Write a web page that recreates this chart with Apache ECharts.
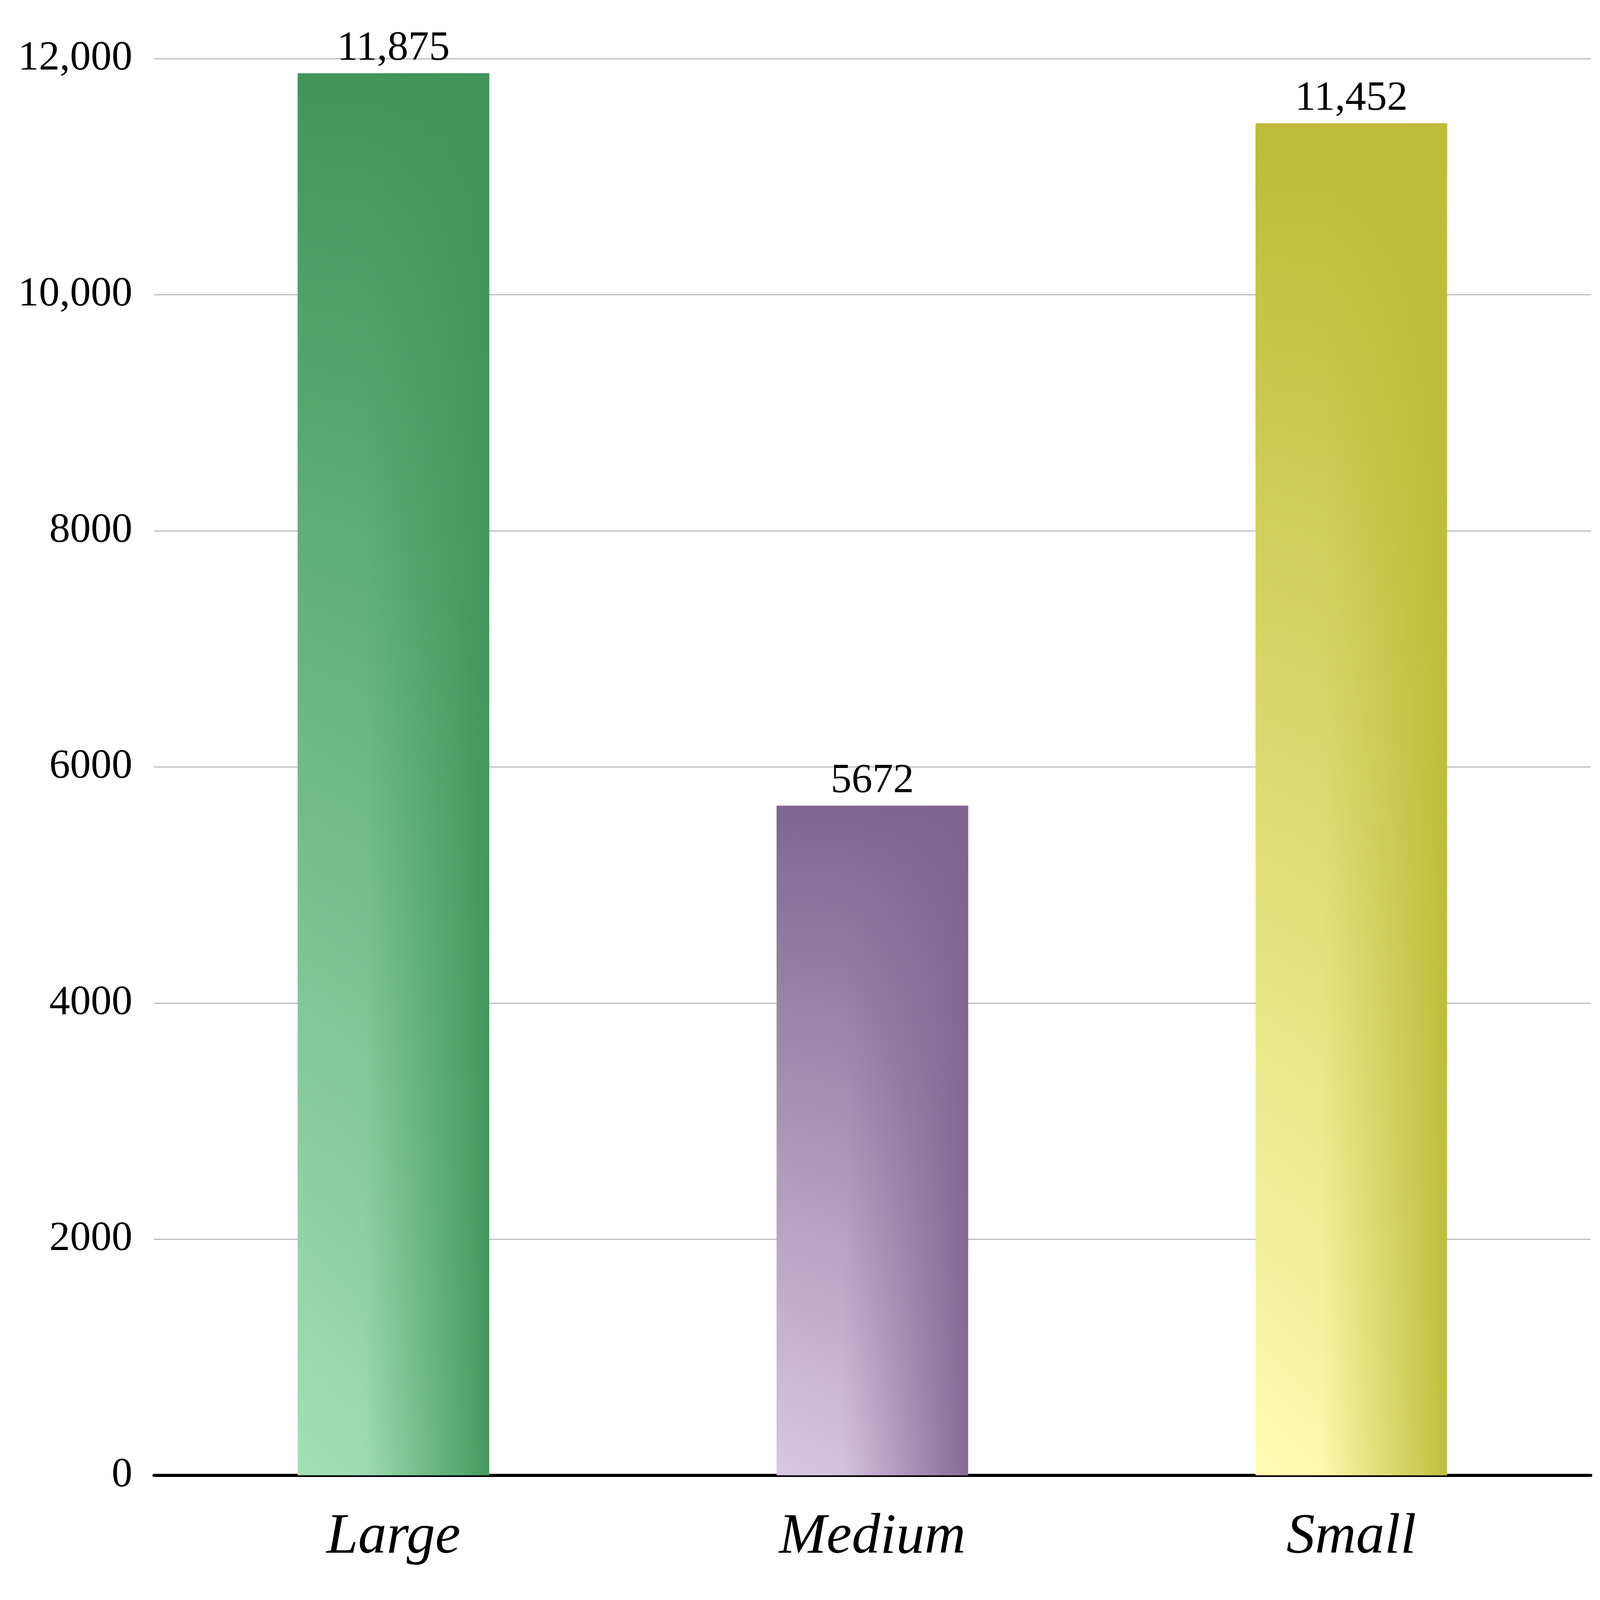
<!DOCTYPE html>
<html><head><meta charset="utf-8">
<script src="https://cdn.jsdelivr.net/npm/echarts@6/dist/echarts.min.js"></script>
<style>html,body{margin:0;padding:0;background:#fff;overflow:hidden}#c{width:100vw;height:100vh}</style>
</head><body><div id="c"></div>
<script>
const categories = ['Large', 'Medium', 'Small'];
const values = [11875, 5672, 11452];
const darkColors = ['#3f955a', '#7f6690', '#bdbb38'];
const darkRgb = ['63,149,90', '127,102,144', '189,187,56'];
const lightColors = ['#a2e0b6', '#d8c8e2', '#fffcb2'];
const yTicks = [0, 2000, 4000, 6000, 8000, 10000, 12000];

function fmt(v){ return v >= 10000 ? v.toLocaleString('en-US') : String(v); }

const W = window.innerWidth, H = window.innerHeight;
const s = Math.min(W / 5196, H / 4102);
const chart = echarts.init(document.getElementById('c'));
chart.setOption({
  animation: false,
  grid: { left: 500 * s, right: 30 * s, top: 190 * s, bottom: 405 * s, containLabel: false },
  xAxis: {
    type: 'category', data: categories,
    axisLine: { lineStyle: { color: '#000', width: 10 * s } },
    axisTick: { show: false },
    axisLabel: { fontFamily: 'Liberation Serif', fontStyle: 'italic', fontSize: 185 * s, color: '#000', margin: 110 * s }
  },
  yAxis: {
    type: 'value', min: yTicks[0], max: yTicks[yTicks.length-1], interval: 2000,
    axisLine: { show: false }, axisTick: { show: false },
    splitLine: { lineStyle: { color: '#bdbdbd', width: 4 * s } },
    axisLabel: { fontFamily: 'Liberation Serif', fontSize: 135 * s, color: '#000', margin: 70 * s, formatter: fmt }
  },
  series: [{
    type: 'bar', barWidth: '40%',
    data: values.map((v, i) => ({
      value: v,
      itemStyle: { color: new echarts.graphic.LinearGradient(0, 1, 0, 0, [
        { offset: 0, color: lightColors[i] },
        { offset: 1, color: darkColors[i] }
      ]) }
    })),
    label: { show: true, position: 'top', distance: 12 * s, fontFamily: 'Liberation Serif', fontSize: 135 * s, color: '#000',
      formatter: p => fmt(p.value) }
  }, {
    type: 'bar', barWidth: '40%', barGap: '-100%', silent: true, z: 3,
    data: values.map((v, i) => ({
      value: v,
      itemStyle: { color: new echarts.graphic.LinearGradient(0, 0, 1, 0, [
        { offset: 0, color: 'rgba(' + darkRgb[i] + ',0)' },
        { offset: 0.35, color: 'rgba(' + darkRgb[i] + ',0.05)' },
        { offset: 1, color: 'rgba(' + darkRgb[i] + ',0.95)' }
      ]) }
    })),
    label: { show: false }
  }]
});
</script></body></html>
